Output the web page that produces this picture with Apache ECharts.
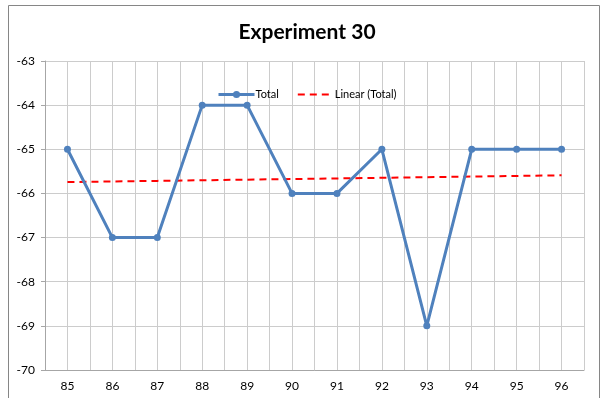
<!DOCTYPE html>
<html>
<head>
<meta charset="utf-8">
<script src="https://cdn.jsdelivr.net/npm/echarts@6/dist/echarts.min.js"></script>
<style>
  html, body { margin: 0; padding: 0; background: #fff; }
  #chart { width: 614px; height: 398px; }
</style>
</head>
<body>
<div id="chart"></div>
<script>
// Run numbers along the x axis and their measured totals
const runs = [85, 86, 87, 88, 89, 90, 91, 92, 93, 94, 95, 96];
const totals = [-65, -67, -67, -64, -64, -66, -66, -65, -69, -65, -65, -65];
const yTicks = [-70, -69, -68, -67, -66, -65, -64, -63];

// Least-squares trend of the totals over the run order
function linearFit(ys) {
  const n = ys.length;
  const mx = (n - 1) / 2;
  const my = ys.reduce((a, b) => a + b, 0) / n;
  let sxy = 0, sxx = 0;
  ys.forEach((y, i) => { sxy += (i - mx) * (y - my); sxx += (i - mx) * (i - mx); });
  const slope = sxy / sxx;
  return ys.map((_, i) => my + slope * (i - mx));
}
const trend = linearFit(totals);

const font = 'Lato, "Open Sans", sans-serif';
const chart = echarts.init(document.getElementById('chart'));
chart.setOption({
  backgroundColor: '#fff',
  animation: false,
  title: {
    text: 'Experiment 30',
    left: 'center',
    top: 17,
    textStyle: { fontFamily: font, fontSize: 21, fontWeight: 'bold', color: '#000' }
  },
  legend: {
    left: 212,
    top: 84,
    itemWidth: 36,
    itemHeight: 9,
    itemGap: 18,
    textStyle: { fontFamily: font, fontSize: 11, color: '#000', padding: [0, 0, 0, -4] },
    data: [
      { name: 'Total', lineStyle: { width: 3 } },
      { name: 'Linear (Total)', itemStyle: { opacity: 0 }, lineStyle: { width: 2 } }
    ]
  },
  graphic: [{
    type: 'rect',
    shape: { x: 8.5, y: 5.5, width: 591, height: 420 },
    style: { fill: 'none', stroke: '#868686', lineWidth: 1 },
    silent: true,
    z: -1
  }],
  grid: { left: 45, right: 30, top: 61, bottom: 28 },
  xAxis: {
    type: 'value',
    min: runs[0] - 0.5,
    max: runs[runs.length - 1] + 0.5,
    interval: 0.5,
    axisLine: { show: true, lineStyle: { color: '#a6a6a6', width: 1 } },
    axisTick: { show: false },
    axisLabel: {
      fontFamily: font, fontSize: 12, color: '#000', margin: 10,
      formatter: v => (Number.isInteger(v) ? String(v) : '')
    },
    splitLine: { show: true, lineStyle: { color: '#cccccc', width: 1 } }
  },
  yAxis: {
    type: 'value',
    min: yTicks[0],
    max: yTicks[yTicks.length - 1],
    interval: 1,
    axisLine: { show: true, lineStyle: { color: '#a6a6a6', width: 1 } },
    axisTick: { show: true, length: 4, lineStyle: { color: '#a6a6a6' } },
    axisLabel: { fontFamily: font, fontSize: 12, color: '#000', margin: 10 },
    splitLine: { show: true, lineStyle: { color: '#cccccc', width: 1 } }
  },
  series: [
    {
      name: 'Total',
      type: 'line',
      data: runs.map((r, i) => [r, totals[i]]),
      symbol: 'circle',
      symbolSize: 7,
      lineStyle: { color: '#4f81bd', width: 3 },
      itemStyle: { color: '#4f81bd' },
      z: 3
    },
    {
      name: 'Linear (Total)',
      type: 'line',
      data: runs.map((r, i) => [r, trend[i]]),
      showSymbol: false,
      symbol: 'none',
      lineStyle: { color: '#ff0000', width: 2, type: [7, 5] },
      itemStyle: { color: '#ff0000' },
      z: 2
    }
  ]
});
</script>
</body>
</html>
